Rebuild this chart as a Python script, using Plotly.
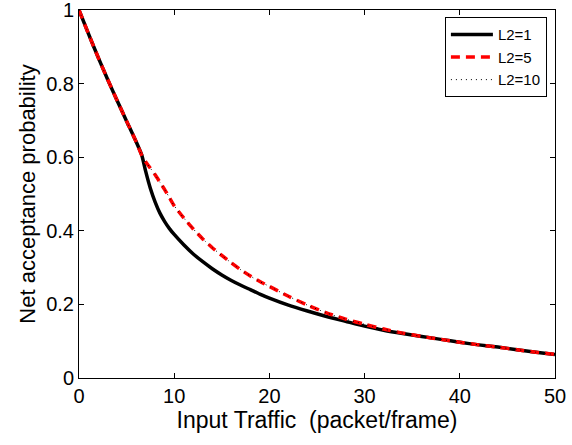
import plotly.graph_objects as go

x_vals = [0, 1, 2, 3, 4, 5, 6, 6.6, 7, 7.5, 8, 8.5, 9, 9.5, 10, 11, 12, 13, 14, 15, 16,
          17, 18, 19, 20, 22, 24, 26, 28, 30, 32, 34, 36, 38, 40, 42, 44, 46, 48, 50]

l2_1 = [1.0, 0.935, 0.872, 0.812, 0.754, 0.698, 0.642, 0.605, 0.562, 0.515, 0.478, 0.448,
        0.425, 0.406, 0.39, 0.362, 0.337, 0.316, 0.297, 0.28, 0.265,
        0.252, 0.24, 0.228, 0.217, 0.198, 0.182, 0.167, 0.154, 0.141, 0.13, 0.121,
        0.113, 0.105, 0.097, 0.09, 0.084, 0.077, 0.07, 0.064]

l2_5 = [1.0, 0.935, 0.872, 0.812, 0.754, 0.698, 0.642, 0.605, 0.588, 0.57, 0.552, 0.532,
        0.512, 0.49, 0.468, 0.435, 0.405, 0.378, 0.354, 0.333, 0.313,
        0.294, 0.277, 0.262, 0.249, 0.222, 0.198, 0.177, 0.16, 0.146, 0.133, 0.122,
        0.113, 0.105, 0.097, 0.09, 0.084, 0.077, 0.07, 0.064]

l2_10 = [1.0, 0.935, 0.872, 0.812, 0.754, 0.698, 0.642, 0.605, 0.588, 0.57, 0.552, 0.532,
         0.512, 0.49, 0.468, 0.435, 0.405, 0.378, 0.354, 0.333, 0.313,
         0.294, 0.277, 0.262, 0.249, 0.222, 0.198, 0.177, 0.16, 0.146, 0.133, 0.122,
         0.113, 0.105, 0.097, 0.09, 0.084, 0.077, 0.07, 0.064]

series_names = ["L2=1", "L2=5", "L2=10"]

FONT = "Liberation Sans, Arial, Helvetica, sans-serif"

fig = go.Figure()
fig.add_trace(go.Scatter(x=x_vals, y=l2_1, mode="lines", name=series_names[0],
                         line=dict(color="black", width=3.5, shape="spline", smoothing=0.6)))
fig.add_trace(go.Scatter(x=x_vals, y=l2_5, mode="lines", name=series_names[1],
                         line=dict(color="#ff0000", width=3.5, dash="9px,6px", shape="spline", smoothing=0.6)))
fig.add_trace(go.Scatter(x=x_vals, y=l2_10, mode="lines", name=series_names[2],
                         line=dict(color="black", width=1, dash="1px,4px", shape="spline", smoothing=0.6)))

axis_common = dict(
    showline=True, linecolor="black", linewidth=1, mirror="ticks",
    ticks="inside", ticklen=5, tickcolor="black", tickwidth=1,
    showgrid=False, zeroline=False, ticklabeloverflow="allow", automargin=False,
    tickfont=dict(family=FONT, size=20, color="black"),
)

fig.update_layout(
    width=572, height=445,
    margin=dict(l=79, r=17, t=10, b=67),
    paper_bgcolor="white", plot_bgcolor="white",
    font=dict(family=FONT, color="black"),
    xaxis=dict(range=[0, 50], tickvals=[0, 10, 20, 30, 40, 50],
               title=dict(text="Input Traffic\u00a0 (packet/frame)", font=dict(family=FONT, size=23), standoff=0),
               **axis_common),
    yaxis=dict(range=[0, 1], tickvals=[0, 0.2, 0.4, 0.6, 0.8, 1],
               title=dict(text="Net acceptance probability", font=dict(family=FONT, size=22), standoff=4),
               **axis_common),
    legend=dict(x=0.983, y=0.98, xanchor="right", yanchor="top",
                bgcolor="white", bordercolor="black", borderwidth=1,
                font=dict(family=FONT, size=15, color="black"),
                tracegroupgap=0, itemwidth=42),
    showlegend=True,
)

fig.write_html("out.html")
